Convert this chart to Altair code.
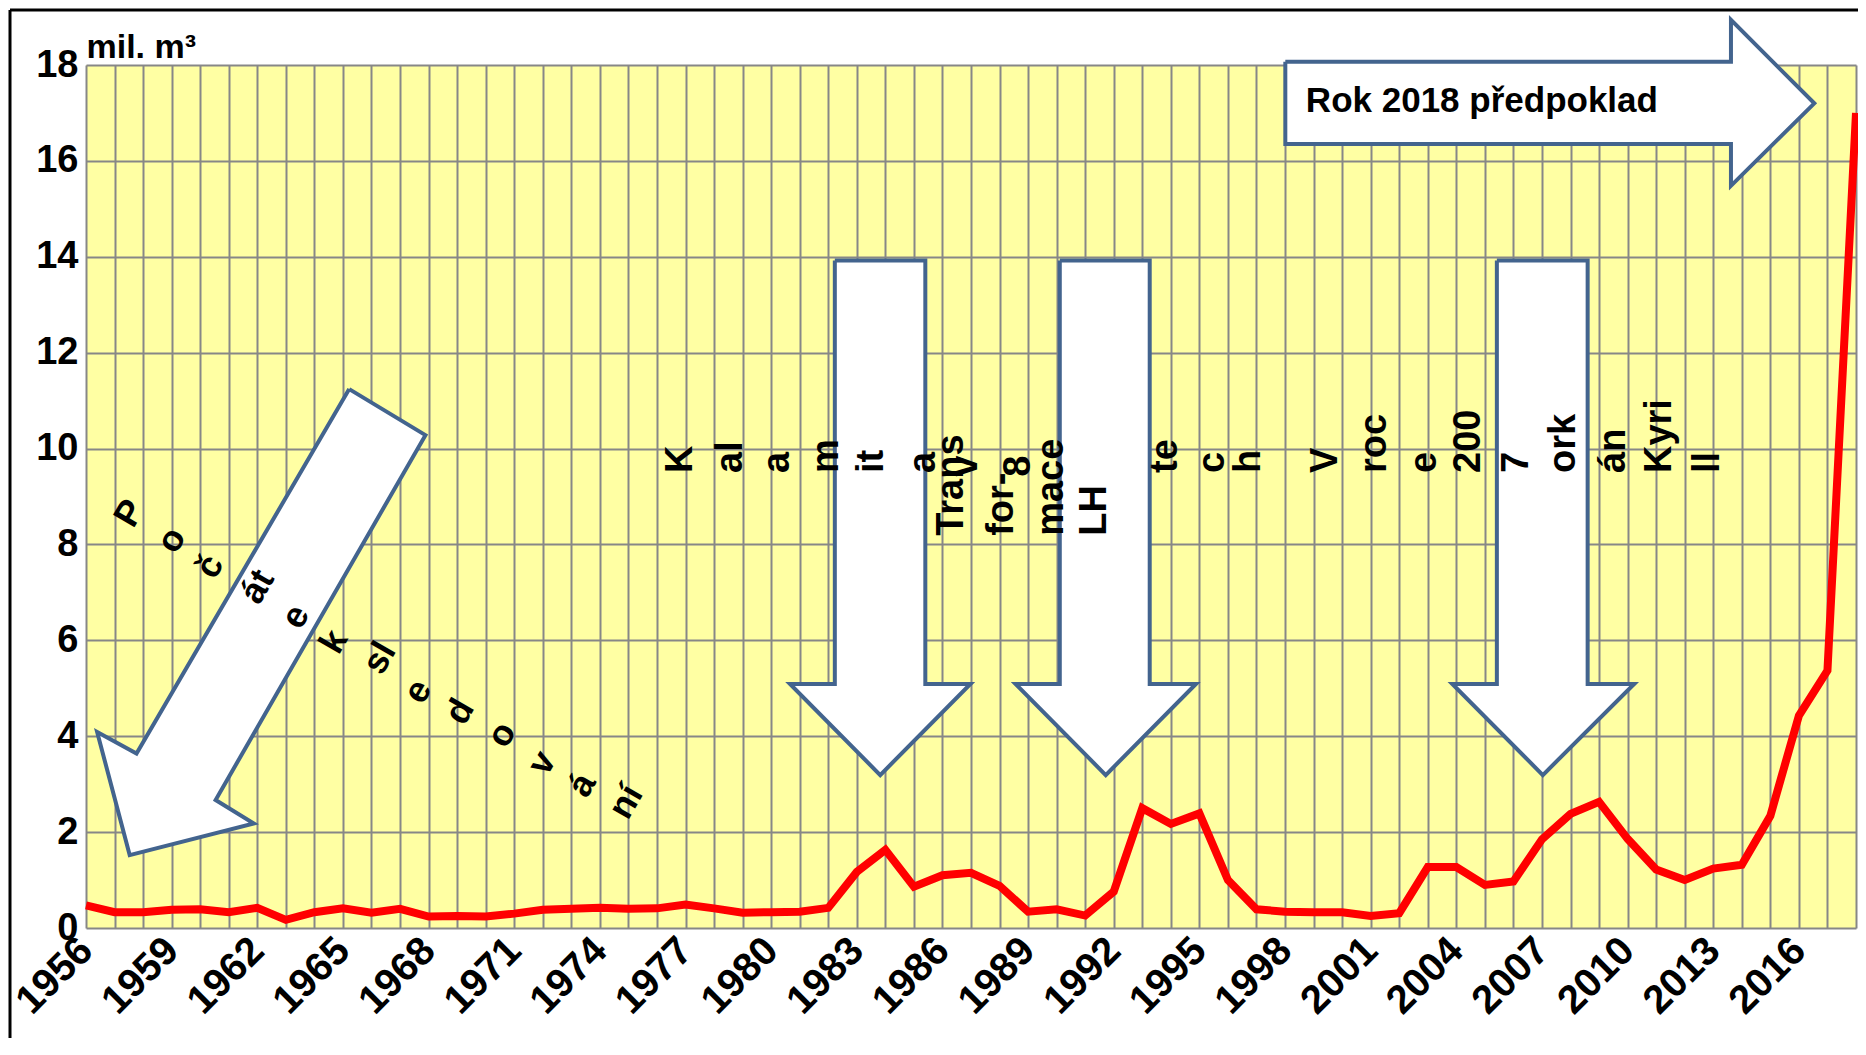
import altair as alt
import pandas as pd

# ---------------- data ----------------
years = list(range(1956, 2019))
volumes = [0.47, 0.33, 0.33, 0.38, 0.39, 0.33, 0.42, 0.17, 0.33, 0.41,
           0.32, 0.40, 0.24, 0.25, 0.24, 0.30, 0.38, 0.40, 0.42, 0.40,
           0.41, 0.49, 0.41, 0.32, 0.33, 0.34, 0.42, 1.17, 1.63, 0.86,
           1.10, 1.15, 0.88, 0.34, 0.39, 0.26, 0.76, 2.50, 2.17, 2.39,
           1.00, 0.39, 0.34, 0.33, 0.33, 0.25, 0.31, 1.27, 1.27, 0.90,
           0.97, 1.85, 2.38, 2.63, 1.86, 1.22, 1.00, 1.24, 1.32, 2.34,
           4.43, 5.37, 17.0]
label_years = list(range(1956, 2017, 3))
y_ticks = list(range(0, 19, 2))

# diagonal arrow "Počátek sledování"
diag_arrow_x = [1965.22, 1967.89, 1960.54, 1961.88, 1957.53, 1956.39, 1957.77, 1965.22]
diag_arrow_y = [11.24, 10.28, 2.67, 2.18, 1.52, 4.09, 3.64, 11.24]

# three downward arrows
down_shaft_left = [1982.23, 1990.11, 2005.42]
down_shaft_right = [1985.40, 1993.26, 2008.60]
down_head_left = [1980.66, 1988.56, 2003.86]
down_head_right = [1986.98, 1994.88, 2010.23]
down_tip_x = [1983.82, 1991.72, 2007.03]
down_top, down_shoulder, down_tip_y = 13.92, 5.09, 3.19

# right arrow "Rok 2018 předpoklad"
right_body_left, right_shoulder, right_tip_x = 1998.01, 2013.62, 2016.54
right_body_top, right_body_bottom = 18.07, 16.35
right_head_top, right_head_bottom, right_tip_y = 18.94, 15.48, 17.20

# vertical text fragments
vert_texts = ["K", "al", "a", "m", "it", "a", "v", "8", "te", "c", "h", "V", "roc",
              "e", "200", "7", "ork", "án", "Kyri", "ll",
              "Trans", "for-", "mace", "LH"]
vert_x = [1976.84, 1978.58, 1980.25, 1981.95, 1983.53, 1985.34, 1986.81, 1988.68,
          1993.83, 1995.47, 1996.75, 1999.42, 2001.16, 2002.90, 2004.46, 2006.11,
          2007.78, 2009.52, 2011.12, 2012.80,
          1986.34, 1988.08, 1989.82, 1991.35]
vert_y = [9.49] * 6 + [9.41, 9.41] + [9.49] * 12 + [8.18] * 4

# diagonal text fragments
diag_texts = ["P", "o", "č", "át", "e", "k", "sl", "e", "d", "o", "v", "á", "ní"]
diag_x = [1957.53, 1959.00, 1960.34, 1962.01, 1963.35, 1964.69, 1966.29,
          1967.63, 1969.10, 1970.57, 1971.98, 1973.38, 1974.92]
diag_y = [8.65, 8.09, 7.54, 7.12, 6.49, 5.97, 5.63, 4.93, 4.51, 4.03, 3.44, 2.98, 2.63]

note_text = ["Rok 2018 předpoklad"]
note_x = [1998.73]
note_y = [17.25]

# ---------------- tables ----------------
line_df = pd.DataFrame({"x": years, "y": volumes})

poly_rows = []
for i, (px, py) in enumerate(zip(diag_arrow_x, diag_arrow_y)):
    poly_rows.append({"id": "diag", "o": i, "x": px, "y": py})
for k in range(3):
    pts = [(down_shaft_left[k], down_top), (down_shaft_right[k], down_top),
           (down_shaft_right[k], down_shoulder), (down_head_right[k], down_shoulder),
           (down_tip_x[k], down_tip_y), (down_head_left[k], down_shoulder),
           (down_shaft_left[k], down_shoulder), (down_shaft_left[k], down_top)]
    for i, (px, py) in enumerate(pts):
        poly_rows.append({"id": f"down{k}", "o": i, "x": px, "y": py})
pts = [(right_body_left, right_body_top), (right_shoulder, right_body_top),
       (right_shoulder, right_head_top), (right_tip_x, right_tip_y),
       (right_shoulder, right_head_bottom), (right_shoulder, right_body_bottom),
       (right_body_left, right_body_bottom), (right_body_left, right_body_top)]
for i, (px, py) in enumerate(pts):
    poly_rows.append({"id": "right", "o": i, "x": px, "y": py})
poly_df = pd.DataFrame(poly_rows)

vert_df = pd.DataFrame({"x": vert_x, "y": vert_y, "t": vert_texts})
diag_df = pd.DataFrame({"x": diag_x, "y": diag_y, "t": diag_texts})
note_df = pd.DataFrame({"x": note_x, "y": note_y, "t": note_text})

# ---------------- styling ----------------
W, H = 1770, 863
FONT = "Liberation Sans, Arial, sans-serif"
GRID = "#878787"
OUTLINE = "#43648E"

xscale = alt.Scale(domain=[1956, 2018], nice=False, zero=False)
yscale = alt.Scale(domain=[0, 18], nice=False, zero=True)

x_axis = alt.Axis(values=years,
                  labelExpr="(datum.value - 1956) % 3 == 0 ? format(datum.value, 'd') : ''",
                  labelAngle=315, labelAlign="right", labelBaseline="middle",
                  labelFont=FONT, labelFontSize=40, labelFontWeight="bold",
                  labelColor="black", labelPadding=16, labelOverlap=False,
                  labelFlush=False, labelBound=False,
                  ticks=False, domain=False, grid=True, gridColor=GRID,
                  gridWidth=2, gridOpacity=1, title=None)
y_axis = alt.Axis(values=y_ticks, labelFont=FONT, labelFontSize=38,
                  labelFontWeight="bold", labelColor="black", labelPadding=8,
                  labelOverlap=False, labelFlush=False, labelBound=False,
                  ticks=False, domain=False, grid=True, gridColor=GRID,
                  gridWidth=2, gridOpacity=1,
                  title="mil. m³", titleAngle=0, titleAlign="left",
                  titleBaseline="alphabetic", titleX=0, titleY=-8,
                  titleFont=FONT, titleFontSize=34, titleFontWeight="bold",
                  titleColor="black")

X = alt.X("x:Q", scale=xscale, axis=x_axis)
Y = alt.Y("y:Q", scale=yscale, axis=y_axis)

line = alt.Chart(line_df).mark_line(color="#FF0000", strokeWidth=8,
                                    strokeJoin="miter").encode(x=X, y=Y)

arrows = alt.Chart(poly_df).mark_line(fill="white", stroke=OUTLINE, strokeWidth=4,
                                      strokeJoin="miter").encode(
    x=X, y=Y, detail="id:N", order="o:Q")

vtext = alt.Chart(vert_df).mark_text(angle=270, align="left", baseline="middle",
                                     font=FONT, fontSize=38, fontWeight="bold",
                                     color="black").encode(x=X, y=Y, text="t:N")

dtext = alt.Chart(diag_df).mark_text(angle=300, align="center", baseline="middle",
                                     font=FONT, fontSize=36, fontWeight="bold",
                                     color="black").encode(x=X, y=Y, text="t:N")

ntext = alt.Chart(note_df).mark_text(align="left", baseline="middle",
                                     font=FONT, fontSize=35, fontWeight="bold",
                                     color="black").encode(x=X, y=Y, text="t:N")

frame_left = alt.Chart().mark_rule(color="black", strokeWidth=3).encode(
    x=alt.value(-76), y=alt.value(-55), y2=alt.value(H + 110))
frame_top = alt.Chart().mark_rule(color="black", strokeWidth=3).encode(
    x=alt.value(-76), x2=alt.value(W + 2), y=alt.value(-55))

chart = alt.layer(line, arrows, vtext, dtext, ntext, frame_left, frame_top).properties(
    width=W, height=H,
    padding={"left": 78, "top": 57, "right": 2, "bottom": 110},
    autosize=alt.AutoSizeParams(type="none"),
    background="white",
).configure_view(fill="#FFFFA3", strokeWidth=0)

chart.save("out.html", embed_options={"renderer": "svg", "actions": False})
